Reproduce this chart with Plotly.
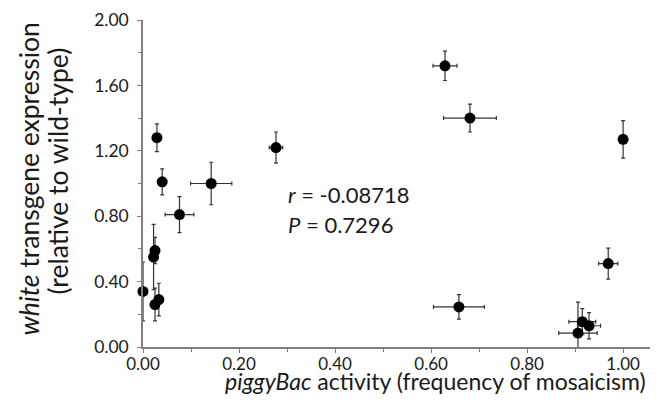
import plotly.graph_objects as go

x = [0.000, 0.022, 0.025, 0.025, 0.033, 0.029, 0.040, 0.076, 0.142, 0.277,
     0.629, 0.681, 1.000, 0.969, 0.658, 0.915, 0.929, 0.906]
y = [0.34, 0.55, 0.59, 0.26, 0.29, 1.28, 1.01, 0.81, 1.00, 1.22,
     1.72, 1.40, 1.27, 0.51, 0.245, 0.155, 0.13, 0.085]
x_err = [0.000, 0.004, 0.004, 0.005, 0.006, 0.008, 0.008, 0.030, 0.043, 0.014,
         0.025, 0.055, 0.000, 0.020, 0.053, 0.028, 0.024, 0.040]
y_err = [0.18, 0.20, 0.08, 0.10, 0.10, 0.085, 0.08, 0.11, 0.13, 0.095,
         0.09, 0.085, 0.115, 0.095, 0.075, 0.08, 0.08, 0.19]

y_ticks = [0.0, 0.4, 0.8, 1.2, 1.6, 2.0]
y_tick_labels = ["0.00", "0.40", "0.80", "1.20", "1.60", "2.00"]
x_ticks = [0.0, 0.2, 0.4, 0.6, 0.8, 1.0]
x_tick_labels = ["0.00", "0.20", "0.40", "0.60", "0.80", "1.00"]

font_family = "Lato, Open Sans, sans-serif"
axis_col = "#808080"
text_col = "#1a1a1a"

fig = go.Figure()
fig.add_trace(go.Scatter(
    x=x, y=y, mode="markers",
    marker=dict(color="black", size=11),
    error_x=dict(type="data", array=x_err, color="#333333", thickness=1.2, width=2),
    error_y=dict(type="data", array=y_err, color="#333333", thickness=1.2, width=2),
    showlegend=False, cliponaxis=False,
))

# page body has an 8px default margin; figure sized to fit the 659x406 window
fig.update_layout(
    width=643, height=390,
    margin=dict(l=135, r=1, t=5, b=51),
    paper_bgcolor="white", plot_bgcolor="white",
    font=dict(family=font_family, color=text_col),
    xaxis=dict(
        range=[0, 1.056], showgrid=False, zeroline=False,
        showline=True, linecolor=axis_col, linewidth=1.5,
        tickvals=x_ticks, ticktext=x_tick_labels,
        ticks="outside", ticklen=4, tickcolor=axis_col,
        minor=dict(dtick=0.1, ticks="outside", ticklen=3, tickcolor=axis_col),
        tickfont=dict(size=17, family=font_family, color=text_col),
        ticklabeloverflow="allow", ticklabelstandoff=-3,
    ),
    yaxis=dict(
        range=[0, 2.0], showgrid=False, zeroline=False,
        showline=True, linecolor=axis_col, linewidth=1.5,
        tickvals=y_ticks, ticktext=y_tick_labels,
        ticks="outside", ticklen=4, tickcolor=axis_col,
        minor=dict(dtick=0.2, ticks="outside", ticklen=3, tickcolor=axis_col),
        tickfont=dict(size=17.5, family=font_family, color=text_col),
        ticklabelstandoff=5, ticklabeloverflow="allow",
    ),
)

# axis titles
fig.add_annotation(x=0.576, y=-0.105, xref="paper", yref="paper",
                   xanchor="center", yanchor="middle", borderpad=0,
                   text="<i>piggyBac</i> activity (frequency of mosaicism)",
                   showarrow=False, font=dict(size=23, family=font_family, color=text_col))
fig.add_annotation(x=-0.225, y=0.515, xref="paper", yref="paper",
                   xanchor="center", yanchor="middle",
                   text="<i>white</i> transgene expression", textangle=-90,
                   showarrow=False, font=dict(size=26.5, family=font_family, color=text_col))
fig.add_annotation(x=-0.168, y=0.539, xref="paper", yref="paper",
                   xanchor="center", yanchor="middle",
                   text="(relative to wild-type)", textangle=-90,
                   showarrow=False, font=dict(size=26.5, family=font_family, color=text_col))

# statistics
fig.add_annotation(x=0.298, y=0.93, xref="x", yref="y", xanchor="left",
                   text="<i>r</i> = -0.08718", showarrow=False,
                   font=dict(size=22, family=font_family, color=text_col))
fig.add_annotation(x=0.298, y=0.75, xref="x", yref="y", xanchor="left",
                   text="<i>P</i> = 0.7296", showarrow=False,
                   font=dict(size=22, family=font_family, color=text_col))

fig.write_html("out.html")
